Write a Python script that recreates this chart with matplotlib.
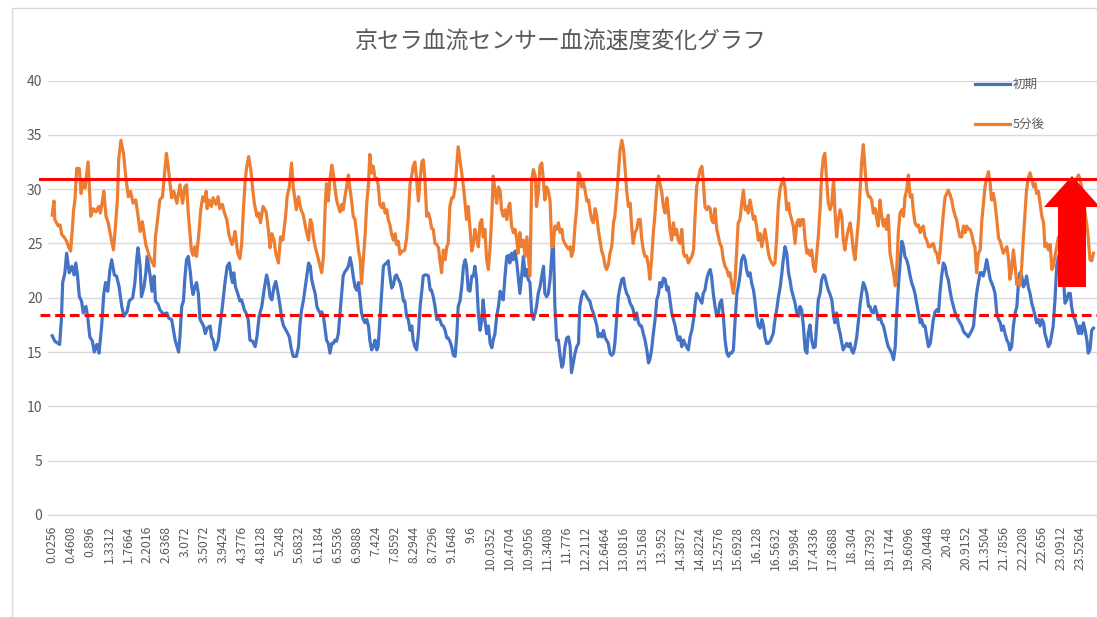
import matplotlib.pyplot as plt
from matplotlib.patches import Polygon, Rectangle

plt.rcParams['font.family'] = ['Noto Sans CJK JP', 'DejaVu Sans']

title = '京セラ血流センサー血流速度変化グラフ'
series_names = ['初期', '5分後']
upper_level = 30.9   # solid red line
lower_level = 18.4   # dashed red line

tick_labels = ['0.0256', '0.4608', '0.896', '1.3312', '1.7664', '2.2016', '2.6368', '3.072',
               '3.5072', '3.9424', '4.3776', '4.8128', '5.248', '5.6832', '6.1184', '6.5536',
               '6.9888', '7.424', '7.8592', '8.2944', '8.7296', '9.1648', '9.6', '10.0352',
               '10.4704', '10.9056', '11.3408', '11.776', '12.2112', '12.6464', '13.0816',
               '13.5168', '13.952', '14.3872', '14.8224', '15.2576', '15.6928', '16.128',
               '16.5632', '16.9984', '17.4336', '17.8688', '18.304', '18.7392', '19.1744',
               '19.6096', '20.0448', '20.48', '20.9152', '21.3504', '21.7856', '22.2208',
               '22.656', '23.0912', '23.5264']

# first ~6 s, read point by point (seconds)
t_start_initial = [0.03, 0.09, 0.20, 0.24, 0.27, 0.32, 0.36, 0.42, 0.48, 0.53, 0.57, 0.61, 0.65, 0.70,
                   0.74, 0.80, 0.84, 0.89, 0.95, 0.99, 1.05, 1.10, 1.16, 1.21, 1.25, 1.30, 1.35, 1.39,
                   1.45, 1.50, 1.56, 1.62, 1.67, 1.74, 1.79, 1.87, 1.92, 1.96, 1.99, 2.04, 2.07, 2.13,
                   2.17, 2.20, 2.27, 2.31, 2.36, 2.39, 2.45, 2.49, 2.57, 2.65, 2.70, 2.76, 2.84, 2.92,
                   2.95, 2.99, 3.03, 3.06, 3.10, 3.14, 3.18, 3.22, 3.25, 3.29, 3.33, 3.37, 3.41, 3.45,
                   3.49, 3.53, 3.57, 3.64, 3.67, 3.71, 3.75, 3.79, 3.83, 3.86, 3.92, 3.98, 4.03, 4.08,
                   4.12, 4.15, 4.18, 4.22, 4.27, 4.32, 4.36, 4.42, 4.46, 4.51, 4.55, 4.61, 4.67, 4.71,
                   4.76, 4.82, 4.88, 4.93, 4.97, 5.01, 5.05, 5.10, 5.14, 5.18, 5.24, 5.28, 5.32, 5.39,
                   5.45, 5.49, 5.54, 5.61, 5.66, 5.69, 5.73, 5.77, 5.85, 5.89, 5.93]
t_start_after = [0.03, 0.07, 0.09, 0.17, 0.21, 0.25, 0.30, 0.36, 0.40, 0.45, 0.49, 0.52, 0.55, 0.59,
                 0.65, 0.69, 0.74, 0.78, 0.85, 0.88, 0.91, 0.97, 1.03, 1.09, 1.13, 1.17, 1.21, 1.26,
                 1.31, 1.37, 1.43, 1.47, 1.52, 1.55, 1.60, 1.66, 1.71, 1.77, 1.82, 1.88, 1.94, 1.99,
                 2.04, 2.09, 2.17, 2.25, 2.36, 2.39, 2.43, 2.49, 2.55, 2.64, 2.68, 2.76, 2.81, 2.88,
                 2.94, 2.95, 3.01, 3.06, 3.10, 3.14, 3.17, 3.21, 3.25, 3.29, 3.33, 3.39, 3.42, 3.47,
                 3.51, 3.55, 3.57, 3.62, 3.67, 3.71, 3.77, 3.82, 3.86, 3.92, 3.96, 4.02, 4.07, 4.14,
                 4.17, 4.21, 4.27, 4.32, 4.36, 4.40, 4.44, 4.47, 4.52, 4.57, 4.61, 4.65, 4.71, 4.75,
                 4.79, 4.85, 4.92, 4.97, 5.01, 5.05, 5.10, 5.14, 5.20, 5.25, 5.30, 5.36, 5.40, 5.45,
                 5.50, 5.54, 5.61, 5.66, 5.71, 5.77, 5.83, 5.89, 5.93]

# rest of the record, both series read at the same times (seconds)
t_rest = [5.96, 6.00, 6.04, 6.08, 6.11, 6.15, 6.19, 6.23, 6.27, 6.30,
          6.34, 6.38, 6.42, 6.46, 6.49, 6.53, 6.57, 6.61, 6.65, 6.68,
          6.72, 6.76, 6.80, 6.84, 6.88, 6.91, 6.95, 6.99, 7.03, 7.07,
          7.10, 7.14, 7.18, 7.22, 7.26, 7.29, 7.33, 7.37, 7.41, 7.45,
          7.48, 7.52, 7.56, 7.60, 7.64, 7.68, 7.71, 7.75, 7.79, 7.83,
          7.87, 7.90, 7.94, 7.98, 8.02, 8.06, 8.09, 8.13, 8.17, 8.21,
          8.25, 8.28, 8.32, 8.36, 8.40, 8.44, 8.48, 8.51, 8.55, 8.59,
          8.63, 8.67, 8.70, 8.74, 8.78, 8.82, 8.86, 8.89, 8.93, 8.97,
          9.01, 9.05, 9.08, 9.12, 9.16, 9.20, 9.24, 9.28, 9.31, 9.35,
          9.39, 9.43, 9.47, 9.50, 9.54, 9.58, 9.62, 9.66, 9.69, 9.73,
          9.77, 9.81, 9.85, 9.88, 9.92, 9.96, 10.00, 10.04, 10.08, 10.11,
          10.15, 10.19, 10.23, 10.27, 10.30, 10.34, 10.38, 10.42, 10.46, 10.49,
          10.53, 10.57, 10.61, 10.65, 10.68, 10.72, 10.76, 10.80, 10.84, 10.88,
          10.91, 10.95, 10.99, 11.03, 11.07, 11.10, 11.14, 11.18, 11.22, 11.26,
          11.29, 11.33, 11.37, 11.41, 11.45, 11.48, 11.52, 11.56, 11.60, 11.64,
          11.68, 11.71, 11.75, 11.79, 11.83, 11.87, 11.90, 11.94, 11.98, 12.02,
          12.06, 12.09, 12.13, 12.17, 12.21, 12.25, 12.29, 12.32, 12.36, 12.40,
          12.44, 12.48, 12.51, 12.55, 12.59, 12.63, 12.67, 12.70, 12.74, 12.78,
          12.82, 12.86, 12.89, 12.93, 12.97, 13.01, 13.05, 13.09, 13.12, 13.16,
          13.20, 13.24, 13.28, 13.31, 13.35, 13.39, 13.43, 13.47, 13.50, 13.54,
          13.58, 13.62, 13.66, 13.69, 13.73, 13.77, 13.81, 13.85, 13.89, 13.92,
          13.96, 14.00, 14.04, 14.08, 14.11, 14.15, 14.19, 14.23, 14.27, 14.30,
          14.34, 14.38, 14.42, 14.46, 14.49, 14.53, 14.57, 14.61, 14.65, 14.69,
          14.72, 14.76, 14.80, 14.84, 14.88, 14.91, 14.95, 14.99, 15.03, 15.07,
          15.10, 15.14, 15.18, 15.22, 15.26, 15.29, 15.33, 15.37, 15.41, 15.45,
          15.49, 15.52, 15.56, 15.60, 15.64, 15.68, 15.71, 15.75, 15.79, 15.83,
          15.87, 15.90, 15.94, 15.98, 16.02, 16.06, 16.09, 16.13, 16.17, 16.21,
          16.25, 16.29, 16.32, 16.36, 16.40, 16.44, 16.48, 16.51, 16.55, 16.59,
          16.63, 16.67, 16.70, 16.74, 16.78, 16.82, 16.86, 16.89, 16.93, 16.97,
          17.01, 17.05, 17.09, 17.12, 17.16, 17.20, 17.24, 17.28, 17.31, 17.35,
          17.39, 17.43, 17.47, 17.50, 17.54, 17.58, 17.62, 17.66, 17.69, 17.73,
          17.77, 17.81, 17.85, 17.89, 17.92, 17.96, 18.00, 18.04, 18.08, 18.11,
          18.15, 18.19, 18.23, 18.27, 18.30, 18.34, 18.38, 18.42, 18.46, 18.50,
          18.53, 18.57, 18.61, 18.65, 18.69, 18.72, 18.76, 18.80, 18.84, 18.88,
          18.91, 18.95, 18.99, 19.03, 19.07, 19.10, 19.14, 19.18, 19.22, 19.26,
          19.30, 19.33, 19.37, 19.41, 19.45, 19.49, 19.52, 19.56, 19.60, 19.64,
          19.68, 19.71, 19.75, 19.79, 19.83, 19.87, 19.90, 19.94, 19.98, 20.02,
          20.06, 20.10, 20.13, 20.17, 20.21, 20.25, 20.29, 20.32, 20.36, 20.40,
          20.44, 20.48, 20.51, 20.55, 20.59, 20.63, 20.67, 20.70, 20.74, 20.78,
          20.82, 20.86, 20.90, 20.93, 20.97, 21.01, 21.05, 21.09, 21.12, 21.16,
          21.20, 21.24, 21.28, 21.31, 21.35, 21.39, 21.43, 21.47, 21.50, 21.54,
          21.58, 21.62, 21.66, 21.70, 21.73, 21.77, 21.81, 21.85, 21.89, 21.92,
          21.96, 22.00, 22.04, 22.08, 22.11, 22.15, 22.19, 22.23, 22.27, 22.30,
          22.34, 22.38, 22.42, 22.46, 22.50, 22.53, 22.57, 22.61, 22.65, 22.69,
          22.72, 22.76, 22.80, 22.84, 22.88, 22.91, 22.95, 22.99, 23.03, 23.07,
          23.10, 23.14, 23.18, 23.22, 23.26, 23.30, 23.33, 23.37, 23.41, 23.45,
          23.49, 23.52, 23.56, 23.60, 23.64, 23.68, 23.71, 23.75, 23.79, 23.83]

speed_initial = [
    # 0 - 3 s
    16.5, 16.0, 15.7, 18.0, 21.4, 22.3, 24.1, 22.3, 22.9, 22.1, 23.2, 22.0, 20.1, 19.7, 18.6, 19.2,
    18.3, 16.4, 16.0, 15.0, 15.7, 14.9, 17.4, 20.4, 21.4, 20.6, 22.6, 23.5, 22.1, 22.0, 21.0, 19.2,
    18.3, 18.7, 19.7, 20.0, 21.4, 23.5, 24.6, 22.9, 20.1, 21.0, 22.3, 23.8, 22.0, 20.6, 22.0, 19.7,
    19.4, 18.9, 18.5, 18.6, 18.1, 18.0, 16.1, 15.0,
    # 3 - 6 s
    16.4, 19.2, 19.7, 21.7, 23.5, 23.8, 22.6, 21.0, 20.3, 21.0, 21.4, 20.4, 18.0, 17.7, 17.4, 16.7,
    17.2, 17.4, 16.4, 16.1, 15.2, 15.5, 16.1, 17.2, 19.2, 21.4, 22.9, 23.2, 22.0, 21.4, 22.3, 21.0,
    20.4, 19.7, 19.8, 18.9, 18.6, 18.0, 16.1, 16.0, 15.5, 16.4, 18.3, 19.2, 20.9, 22.1, 21.4, 20.1,
    19.8, 21.0, 21.5, 20.7, 19.2, 18.0, 17.4, 16.9, 16.4, 15.4, 14.6, 14.6, 15.5, 17.4, 18.9, 19.7,
    22.0, 23.2, 22.9,
    # 6 - 9 s
    21.7, 21.0, 20.4, 19.2, 18.9, 18.6, 18.7, 18.3, 17.0, 16.1, 15.8, 14.9, 15.8, 15.8, 16.1, 16.0,
    16.7, 18.6, 20.4, 22.0, 22.4, 22.6, 22.9, 23.7, 22.9, 22.0, 21.0, 20.7, 21.4, 19.8, 18.6, 18.0,
    17.7, 18.0, 17.4, 16.1, 15.2, 15.5, 16.1, 15.2, 15.5, 18.0, 20.4, 22.9, 23.1, 23.2, 23.4, 22.0,
    20.9, 21.2, 22.0, 22.1, 21.7, 21.4, 20.7, 19.7, 19.7, 18.3, 18.0, 17.0, 17.4, 16.1, 15.5, 15.2,
    16.7, 19.2, 20.7, 22.0, 22.1, 22.1, 22.0, 20.7, 20.7, 20.1, 19.2, 18.0, 18.1, 18.0,
    # 9 - 12 s
    17.5, 17.4, 17.0, 16.3, 16.3, 16.0, 15.5, 14.7, 14.6, 16.7, 19.2, 19.7, 21.0, 22.9, 23.5, 22.9,
    20.7, 20.6, 22.0, 22.0, 22.9, 21.7, 18.6, 17.0, 18.0, 19.8, 18.0, 16.7, 17.4, 15.8, 15.4, 16.1,
    16.7, 18.3, 19.2, 20.6, 20.1, 19.8, 22.0, 23.8, 23.9, 23.2, 24.1, 23.5, 24.3, 23.2, 22.0, 20.4,
    22.0, 23.8, 22.0, 22.6, 21.7, 21.4, 18.6, 18.0, 18.6, 19.2, 20.4, 21.0, 22.0, 22.9, 20.4, 20.1,
    20.4, 21.7, 24.1, 25.8, 19.2, 16.1, 16.1, 14.6, 13.6, 13.9, 15.5, 16.3, 16.4, 15.5,
    # 12 - 15 s
    13.1, 14.0, 14.9, 15.5, 15.8, 19.2, 20.1, 20.6, 20.4, 20.1, 19.8, 19.7, 19.0, 18.6, 18.0, 17.4,
    16.4, 16.7, 16.4, 17.0, 16.3, 16.1, 15.8, 14.9, 14.7, 14.9, 15.8, 18.0, 20.1, 21.0, 21.7, 21.8,
    21.0, 20.4, 20.1, 19.5, 19.2, 18.9, 18.0, 18.6, 17.7, 17.4, 17.4, 16.7, 16.1, 15.2, 14.0, 14.3,
    15.2, 16.7, 18.0, 19.8, 20.4, 21.4, 21.0, 21.8, 21.7, 20.7, 21.0, 19.8, 18.6, 18.0, 17.4, 16.7,
    16.1, 16.4, 15.5, 16.1, 15.8, 15.5, 15.2, 16.4, 17.0, 18.0, 19.2, 20.4, 20.1, 19.8,
    # 15 - 18 s
    19.5, 20.4, 20.7, 21.7, 22.3, 22.6, 22.0, 20.4, 19.2, 18.3, 18.6, 19.5, 19.8, 18.3, 16.1, 14.9,
    14.6, 14.9, 14.9, 15.2, 18.0, 20.4, 21.0, 22.0, 23.5, 23.9, 23.5, 22.6, 22.0, 22.3, 21.3, 20.7,
    19.8, 18.3, 17.4, 17.2, 18.0, 17.4, 16.4, 15.8, 15.8, 16.0, 16.4, 16.7, 18.0, 18.9, 20.1, 21.0,
    22.0, 23.5, 24.7, 24.1, 22.3, 21.7, 20.7, 20.1, 19.5, 18.6, 18.3, 19.2, 18.9, 17.4, 15.2, 14.9,
    16.7, 17.5, 16.1, 15.4, 15.5, 17.4, 19.8, 20.4, 21.7, 22.1, 22.0, 21.3, 20.7, 20.3,
    # 18 - 21 s
    19.8, 18.3, 17.7, 18.6, 17.4, 16.7, 15.8, 15.2, 15.5, 15.8, 15.5, 15.8, 15.2, 14.9, 15.5, 16.4,
    18.0, 19.5, 20.4, 21.4, 21.0, 20.4, 19.2, 19.2, 18.7, 18.6, 19.2, 18.6, 18.0, 18.3, 17.7, 17.4,
    16.7, 16.1, 15.5, 15.2, 14.9, 14.3, 15.5, 18.3, 21.0, 23.2, 25.2, 24.7, 23.8, 23.5, 22.9, 22.0,
    21.3, 21.0, 20.4, 19.5, 18.6, 17.7, 18.0, 17.4, 17.4, 16.4, 15.5, 15.8, 16.7, 18.0, 18.7, 18.9,
    18.7, 20.4, 22.0, 23.2, 22.9, 22.0, 21.7, 20.7, 19.8, 19.2, 18.6, 18.3, 18.0, 17.7,
    # 21 s - end
    17.4, 16.9, 16.7, 16.6, 16.4, 16.7, 17.0, 17.4, 18.9, 20.4, 21.4, 22.3, 22.3, 22.0, 22.6, 23.5,
    22.6, 21.7, 21.4, 21.0, 20.4, 18.6, 18.0, 17.7, 17.0, 17.4, 16.7, 16.1, 15.8, 15.2, 15.5, 17.4,
    18.6, 19.2, 21.0, 22.3, 22.0, 21.0, 21.4, 22.0, 21.0, 20.4, 19.5, 18.9, 18.3, 17.7, 18.0, 17.4,
    18.0, 17.7, 16.7, 16.1, 15.5, 15.8, 16.7, 17.4, 19.8, 22.9, 23.8, 24.1, 23.5, 22.0, 19.5, 19.8,
    20.4, 20.4, 19.2, 18.3, 18.0, 17.4, 16.7, 17.4, 16.7, 17.7, 17.0, 16.1, 14.9, 15.2, 17.0, 17.2]

speed_after = [
    # 0 - 3 s
    27.6, 28.9, 27.2, 26.6, 26.7, 25.8, 25.6, 25.2, 24.7, 24.3, 26.3, 28.1, 29.0, 31.9, 31.9, 29.6,
    30.7, 30.1, 32.5, 30.2, 27.5, 28.2, 27.9, 28.4, 27.8, 28.7, 29.8, 27.5, 26.9, 25.6, 24.4, 26.3,
    29.0, 32.7, 34.5, 33.3, 31.2, 29.3, 29.8, 28.7, 29.0, 27.6, 26.1, 27.0, 24.9, 23.8, 22.9, 25.6,
    26.9, 29.0, 29.3, 33.3, 32.1, 29.2, 29.8, 28.7, 30.2,
    # 3 - 6 s
    30.4, 28.7, 30.2, 30.4, 27.8, 26.3, 24.4, 23.9, 24.7, 23.8, 26.3, 27.9, 29.3, 28.9, 29.8, 28.2,
    29.0, 28.4, 29.2, 28.6, 29.3, 28.2, 28.6, 27.9, 27.2, 25.8, 24.9, 25.3, 26.1, 24.1, 23.6, 24.9,
    28.1, 30.7, 31.9, 33.0, 31.8, 30.1, 28.7, 27.5, 27.8, 26.9, 28.4, 27.9, 26.3, 24.6, 25.9, 25.3,
    24.1, 23.2, 25.6, 25.3, 27.3, 29.3, 30.2, 32.4, 30.2, 28.1, 29.3, 28.2, 27.6, 26.3, 25.3, 27.2,
    # 6 - 9 s
    26.9, 25.6, 24.7, 24.1, 23.6, 22.9, 22.3, 23.8, 28.4, 30.5, 28.9, 30.9, 32.2, 31.3, 30.2, 29.0,
    28.4, 27.9, 28.6, 28.1, 29.3, 30.2, 31.3, 29.9, 28.7, 27.5, 27.2, 25.9, 24.4, 23.5, 21.3, 23.5,
    25.6, 28.7, 30.5, 33.2, 31.5, 32.1, 30.9, 31.0, 30.4, 28.6, 28.3, 28.7, 27.8, 28.1, 27.2, 26.7,
    25.8, 25.3, 25.9, 24.9, 25.2, 24.0, 24.3, 24.3, 24.4, 25.5, 27.5, 30.5, 31.3, 32.1, 32.5, 30.9,
    28.9, 30.9, 32.5, 32.7, 30.9, 27.5, 27.8, 27.2, 26.4, 26.3, 25.0, 24.9, 24.6, 23.5,
    # 9 - 12 s
    22.3, 24.4, 23.5, 24.7, 25.0, 28.4, 29.2, 29.2, 30.2, 32.4, 33.9, 32.7, 31.5, 30.2, 28.6, 27.2,
    28.4, 26.3, 24.3, 25.0, 26.3, 25.6, 24.7, 26.9, 27.2, 25.6, 26.3, 23.5, 22.6, 24.7, 27.8, 31.2,
    29.9, 28.7, 30.2, 29.8, 28.1, 27.5, 28.1, 27.2, 28.4, 28.7, 26.6, 26.0, 26.3, 25.3, 24.1, 26.0,
    24.7, 25.3, 23.8, 25.6, 24.1, 22.0, 30.9, 31.8, 31.2, 28.4, 29.6, 32.1, 32.4, 30.7, 29.0, 30.2,
    29.8, 28.9, 24.7, 24.7, 26.6, 26.3, 26.9, 26.0, 26.3, 25.3, 25.0, 24.7, 24.5, 24.7,
    # 12 - 15 s
    23.8, 24.4, 26.6, 28.4, 31.5, 31.3, 30.2, 30.7, 29.9, 28.9, 29.0, 28.1, 27.2, 26.9, 28.2, 27.5,
    26.3, 25.3, 24.3, 23.8, 22.9, 22.6, 23.0, 24.1, 24.7, 26.9, 27.5, 29.3, 31.5, 33.6, 34.5, 33.6,
    32.1, 29.9, 28.4, 28.7, 26.3, 25.0, 26.0, 26.3, 27.2, 27.2, 25.6, 24.4, 23.8, 23.8, 22.9, 21.7,
    23.5, 26.0, 27.8, 30.2, 31.2, 30.5, 29.8, 28.4, 27.8, 29.2, 28.1, 26.3, 25.3, 26.9, 25.8, 26.3,
    25.3, 25.0, 26.3, 24.1, 23.8, 23.9, 23.2, 23.5, 23.8, 24.4, 27.2, 30.2, 31.0, 31.8,
    # 15 - 18 s
    32.1, 30.9, 28.4, 28.1, 28.4, 28.2, 27.2, 26.9, 28.2, 26.3, 25.6, 25.0, 24.7, 23.5, 22.9, 22.6,
    22.0, 22.3, 21.3, 20.4, 21.7, 24.7, 26.9, 27.2, 28.7, 29.9, 28.1, 28.4, 27.8, 29.0, 28.1, 27.2,
    27.5, 26.6, 25.3, 25.9, 24.7, 25.6, 26.3, 25.3, 24.1, 23.5, 23.2, 23.0, 23.2, 25.6, 28.7, 30.1,
    30.5, 31.0, 30.2, 28.1, 28.7, 27.8, 27.2, 26.6, 25.0, 26.9, 27.2, 26.6, 27.2, 27.2, 25.3, 24.1,
    24.4, 23.9, 24.4, 22.9, 22.4, 23.8, 25.6, 28.1, 31.5, 33.0, 33.3, 30.9, 28.7, 28.1,
    # 18 - 21 s
    28.7, 30.9, 28.1, 25.6, 27.2, 28.1, 27.5, 25.3, 24.4, 25.6, 26.3, 26.9, 26.0, 24.4, 23.5, 25.3,
    27.2, 30.2, 32.4, 34.1, 31.8, 29.9, 29.3, 29.3, 29.0, 27.8, 28.2, 27.2, 26.6, 29.0, 27.5, 26.6,
    27.2, 26.3, 27.6, 24.1, 23.2, 22.3, 21.1, 22.3, 26.0, 27.8, 28.1, 27.5, 29.2, 29.9, 31.3, 29.3,
    29.5, 28.1, 26.9, 26.6, 26.7, 26.0, 26.3, 26.6, 25.6, 25.3, 24.7, 24.7, 24.9, 25.0, 24.3, 24.1,
    23.2, 24.1, 26.0, 27.8, 29.3, 29.6, 29.9, 29.5, 29.0, 28.1, 27.5, 27.2, 26.3, 25.6,
    # 21 s - end
    25.6, 26.6, 26.0, 26.6, 26.3, 26.3, 25.8, 25.0, 24.7, 22.3, 24.1, 24.4, 27.2, 28.4, 30.2, 31.0,
    31.6, 30.5, 29.0, 29.6, 28.7, 27.2, 25.5, 25.2, 24.7, 24.1, 24.4, 24.7, 23.5, 21.7, 22.6, 24.4,
    22.9, 21.2, 21.7, 21.1, 22.9, 25.6, 28.1, 29.9, 31.0, 31.5, 30.9, 30.2, 30.5, 29.6, 29.8, 28.7,
    27.5, 26.9, 24.7, 25.0, 24.4, 24.9, 22.6, 22.9, 23.8, 24.7, 25.6, 24.9, 26.5, 27.9, 27.1, 28.8,
    29.4, 28.7, 30.0, 30.4, 30.1, 31.0, 31.3, 30.9, 30.2, 29.0, 27.8, 26.7, 25.6, 23.5, 23.4, 24.1]

t_initial = t_start_initial + t_rest
t_after = t_start_after + t_rest

W, H = 1097, 617
fig = plt.figure(figsize=(W / 100, H / 100), dpi=100)
ax = fig.add_axes([48 / W, 102 / H, 1049 / W, 434.5 / H])

ax.plot(t_initial, speed_initial, color='#4472C4', lw=2.3, solid_joinstyle='round', label=series_names[0])
ax.plot(t_after, speed_after, color='#ED7D31', lw=2.3, solid_joinstyle='round', label=series_names[1])

ax.set_xlim(-0.066, 23.911)
ax.set_ylim(0, 40)
ax.set_yticks(range(0, 41, 5))
ax.set_xticks([float(s) for s in tick_labels])
ax.set_xticklabels(tick_labels, rotation=90, va='top')
ax.tick_params(axis='x', length=0, pad=8, labelsize=8.8, labelcolor='#595959')
ax.tick_params(axis='y', length=0, pad=4, labelsize=10, labelcolor='#595959')
ax.grid(axis='y', color='#d9d9d9', lw=1)
ax.set_axisbelow(True)
for s in ax.spines.values():
    s.set_visible(False)
ax.spines['bottom'].set_visible(True)
ax.spines['bottom'].set_color('#d9d9d9')

# red reference lines
ax.axhline(upper_level, xmin=-0.008, xmax=1, color='#FF0000', lw=2.2, clip_on=False, zorder=5)
ax.axhline(lower_level, xmin=-0.008, xmax=1, color='#FF0000', lw=2.2, dashes=(3.2, 1.6),
           clip_on=False, zorder=5)

# red arrow (figure pixels)
arrow_px = [(1072, 176), (1100, 207), (1086, 207), (1086, 287), (1058, 287), (1058, 207), (1044, 207)]
fig.add_artist(Polygon([(x / W, 1 - y / H) for x, y in arrow_px], closed=True,
                       transform=fig.transFigure, facecolor='#FF0000', edgecolor='none', zorder=10))

# chart frame
fig.add_artist(Rectangle((12 / W, -0.1), 1.2, 1.1 - 8 / H, transform=fig.transFigure,
                         facecolor='none', edgecolor='#d9d9d9', lw=1))

fig.text(561 / W, 1 - 41 / H, title, ha='center', va='center', fontsize=16.5, color='#595959')

ax.legend(loc='upper left', bbox_to_anchor=(975 / W, 1 - 78 / H), bbox_transform=fig.transFigure,
          frameon=False, handlelength=2.8, handletextpad=0.25, labelspacing=2.15, borderpad=0,
          borderaxespad=0, fontsize=9, labelcolor='#595959')

fig.savefig('out.png', dpi=100)
